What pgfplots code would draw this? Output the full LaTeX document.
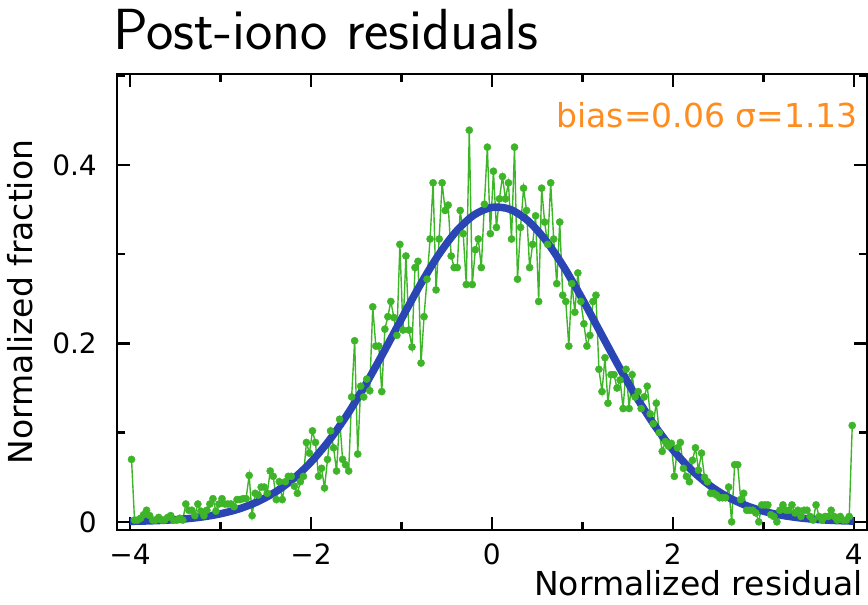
\documentclass[border=0pt]{standalone}
\usepackage{pgfplots}
\pgfplotsset{compat=1.18}
\usepackage{fontspec}
\setmainfont{DejaVu Sans}
\definecolor{dgreen}{RGB}{62,181,40}
\definecolor{fitblue}{RGB}{42,70,180}
\definecolor{annor}{RGB}{255,140,30}
\newcommand{\labfont}{\fontsize{33bp}{38bp}\selectfont}
\newcommand{\tickfont}{\fontsize{28bp}{32bp}\selectfont}
\begin{document}
\begin{tikzpicture}
\begin{axis}[
  scale only axis, width=750bp, height=456bp,
  xmin=-4.144, xmax=4.144, ymin=-0.009, ymax=0.502,
  clip=false,
  axis line style={line width=2.4bp},
  tick style={line width=2.4bp, black},
  tick align=inside,
  xtick pos=both, ytick pos=both,
  major tick length=13bp, minor tick length=8bp,
  xtick={-4,-2,0,2,4}, xticklabels={−4,−2,0,2,4},
  minor xtick={-3,-1,1,3},
  ytick={0,0.2,0.4}, yticklabels={0,0.2,0.4},
  minor ytick={0.1,0.3,0.5},
  xticklabel style={font=\tickfont, inner sep=0pt, yshift=-14bp},
  yticklabel style={font=\tickfont, inner sep=0pt, xshift=-20bp},
  xlabel={Normalized residual},
  xlabel style={font=\labfont, at={(rel axis cs:1,0)}, anchor=base east, inner sep=0pt, yshift=-66bp, xshift=-4bp},
]
\addplot[color=dgreen, line width=1.4bp, mark=*, mark size=3.6bp, mark options={solid, fill=dgreen, draw=dgreen, line width=0.4bp}] coordinates {
(-3.983,0.070) (-3.950,0.002) (-3.917,0.002) (-3.883,0.004) (-3.850,0.008) (-3.817,0.013) (-3.783,0.007) (-3.750,0.002)
(-3.717,0.002) (-3.683,0.005) (-3.650,0.002) (-3.617,0.002) (-3.583,0.005) (-3.550,0.007) (-3.517,0.002) (-3.483,0.002)
(-3.450,0.004) (-3.417,0.002) (-3.383,0.020) (-3.350,0.013) (-3.317,0.013) (-3.283,0.007) (-3.250,0.020) (-3.217,0.012)
(-3.183,0.007) (-3.150,0.013) (-3.117,0.020) (-3.083,0.026) (-3.050,0.012) (-3.017,0.020) (-2.983,0.026) (-2.950,0.020)
(-2.917,0.020) (-2.883,0.020) (-2.850,0.017) (-2.817,0.025) (-2.783,0.025) (-2.750,0.026) (-2.717,0.026) (-2.683,0.052)
(-2.650,0.007) (-2.617,0.032) (-2.583,0.030) (-2.550,0.039) (-2.517,0.039) (-2.483,0.032) (-2.450,0.057) (-2.417,0.051)
(-2.383,0.025) (-2.350,0.045) (-2.317,0.025) (-2.283,0.045) (-2.250,0.051) (-2.217,0.051) (-2.183,0.040) (-2.150,0.032)
(-2.117,0.045) (-2.083,0.051) (-2.050,0.089) (-2.017,0.077) (-1.983,0.102) (-1.950,0.089) (-1.917,0.051) (-1.883,0.060)
(-1.850,0.038) (-1.817,0.070) (-1.783,0.102) (-1.750,0.083) (-1.717,0.057) (-1.683,0.115) (-1.650,0.070) (-1.617,0.064)
(-1.583,0.057) (-1.550,0.140) (-1.517,0.203) (-1.483,0.076) (-1.450,0.152) (-1.417,0.140) (-1.383,0.160) (-1.350,0.147)
(-1.317,0.241) (-1.283,0.197) (-1.250,0.197) (-1.217,0.146) (-1.183,0.216) (-1.150,0.230) (-1.117,0.247) (-1.083,0.229)
(-1.050,0.209) (-1.017,0.311) (-0.983,0.215) (-0.950,0.298) (-0.917,0.215) (-0.883,0.196) (-0.850,0.285) (-0.817,0.292)
(-0.783,0.178) (-0.750,0.230) (-0.717,0.272) (-0.683,0.317) (-0.650,0.380) (-0.617,0.260) (-0.583,0.317) (-0.550,0.380)
(-0.517,0.349) (-0.483,0.355) (-0.450,0.298) (-0.417,0.285) (-0.383,0.285) (-0.350,0.349) (-0.317,0.323) (-0.283,0.266)
(-0.250,0.439) (-0.217,0.266) (-0.183,0.305) (-0.150,0.317) (-0.117,0.285) (-0.083,0.356) (-0.050,0.420) (-0.017,0.323)
(0.017,0.393) (0.050,0.330) (0.083,0.362) (0.117,0.387) (0.150,0.362) (0.183,0.380) (0.217,0.317) (0.250,0.420)
(0.283,0.272) (0.317,0.330) (0.350,0.374) (0.383,0.349) (0.417,0.285) (0.450,0.311) (0.483,0.343) (0.517,0.247)
(0.550,0.374) (0.583,0.336) (0.617,0.311) (0.650,0.380) (0.683,0.317) (0.717,0.267) (0.750,0.336) (0.783,0.254)
(0.817,0.247) (0.850,0.197) (0.883,0.267) (0.917,0.235) (0.950,0.279) (0.983,0.247) (1.017,0.222) (1.050,0.197)
(1.083,0.209) (1.117,0.247) (1.150,0.254) (1.183,0.171) (1.217,0.146) (1.250,0.184) (1.283,0.133) (1.317,0.165)
(1.350,0.165) (1.383,0.150) (1.417,0.159) (1.450,0.127) (1.483,0.171) (1.517,0.127) (1.550,0.165) (1.583,0.140)
(1.617,0.146) (1.650,0.127) (1.683,0.140) (1.717,0.152) (1.750,0.121) (1.783,0.110) (1.817,0.133) (1.850,0.100)
(1.883,0.079) (1.917,0.090) (1.950,0.085) (1.983,0.088) (2.017,0.051) (2.050,0.083) (2.083,0.089) (2.117,0.060)
(2.150,0.051) (2.183,0.045) (2.217,0.069) (2.250,0.083) (2.283,0.058) (2.317,0.077) (2.350,0.050) (2.383,0.045)
(2.417,0.032) (2.450,0.032) (2.483,0.030) (2.517,0.027) (2.550,0.027) (2.583,0.027) (2.617,0.039) (2.650,0.000)
(2.683,0.064) (2.717,0.064) (2.750,0.025) (2.783,0.032) (2.817,0.013) (2.850,0.013) (2.883,0.013) (2.917,0.010)
(2.950,0.000) (2.983,0.019) (3.017,0.019) (3.050,0.019) (3.083,0.008) (3.117,0.006) (3.150,0.000) (3.183,0.013)
(3.217,0.019) (3.250,0.013) (3.283,0.013) (3.317,0.019) (3.350,0.010) (3.383,0.013) (3.417,0.006) (3.450,0.013)
(3.483,0.013) (3.517,0.006) (3.550,0.002) (3.583,0.019) (3.617,0.006) (3.650,0.002) (3.683,0.006) (3.717,0.006)
(3.750,0.013) (3.783,0.006) (3.817,0.002) (3.850,0.006) (3.883,0.002) (3.917,0.002) (3.950,0.006) (3.983,0.108)
};
\addplot[color=fitblue, line width=7.5bp, smooth, no marks] coordinates {
(-4.0,0.00056) (-3.8,0.00103) (-3.6,0.00186) (-3.4,0.00325) (-3.2,0.00550) (-3.0,0.00902) (-2.8,0.01435)
(-2.6,0.02211) (-2.4,0.03301) (-2.2,0.04777) (-2.0,0.06701) (-1.8,0.09109) (-1.6,0.11998) (-1.4,0.15320)
(-1.2,0.18957) (-1.0,0.22735) (-0.8,0.26425) (-0.6,0.29764) (-0.4,0.32493) (-0.2,0.34378) (0.0,0.35250)
(0.2,0.35030) (0.4,0.33738) (0.6,0.31491) (0.8,0.28487) (1.0,0.24975) (1.2,0.21221) (1.4,0.17475)
(1.6,0.13946) (1.8,0.10788) (2.0,0.08086) (2.2,0.05875) (2.4,0.04136) (2.6,0.02823) (2.8,0.01867)
(3.0,0.01196) (3.2,0.00743) (3.4,0.00447) (3.6,0.00261) (3.8,0.00148) (4.0,0.00081)
};
\node[rotate=90, anchor=base, font=\labfont, inner sep=0pt] at ([xshift=-84bp]rel axis cs:0,0.5) {Normalized fraction};
\node[anchor=base east, font=\labfont, text=annor, inner sep=0pt] at ([xshift=-9bp, yshift=-54bp]rel axis cs:1,1) {bias=0.06 σ=1.13};
\node[anchor=base west, inner sep=0pt, font={\fontsize{58bp}{64bp}\selectfont\sffamily}] at ([xshift=-4bp, yshift=24bp]rel axis cs:0,1) {Post-iono residuals};
\path ([xshift=-117bp, yshift=-75bp]rel axis cs:0,0) rectangle ([xshift=1bp, yshift=74bp]rel axis cs:1,1);
\end{axis}
\end{tikzpicture}
\end{document}
